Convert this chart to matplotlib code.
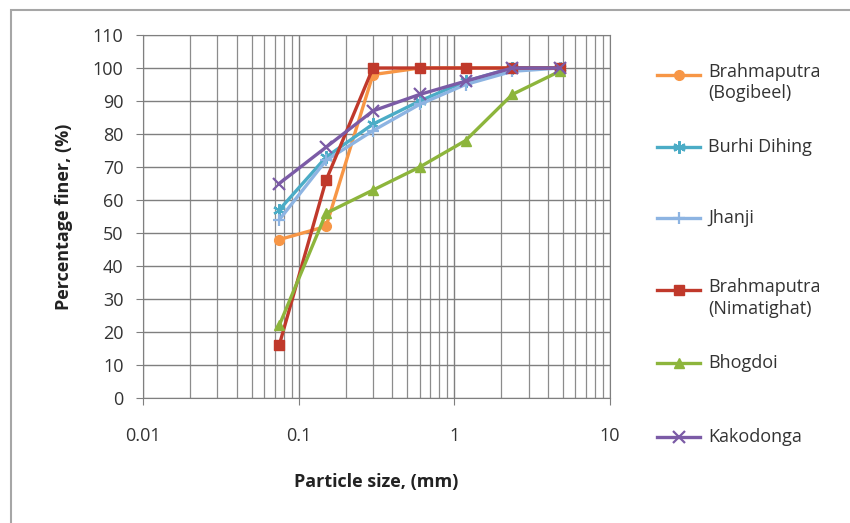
import matplotlib
matplotlib.use("Agg")
import matplotlib.pyplot as plt
from matplotlib.lines import Line2D
from matplotlib.patches import Rectangle
from matplotlib.ticker import FixedLocator, LogLocator, NullFormatter

plt.rcParams['font.family'] = ['Open Sans', 'DejaVu Sans']

# sieve sizes (mm)
sizes = [0.075, 0.15, 0.3, 0.6, 1.18, 2.36, 4.75]

# percentage finer for each river
bogibeel = [48, 52, 98, 100, 100, 100, 100]
burhi_dihing = [57, 73, 83, 90, 96, 100, 100]
jhanji = [54, 72, 81, 89, 95, 99, 100]
nimatighat = [16, 66, 100, 100, 100, 100, 100]
bhogdoi = [22, 56, 63, 70, 78, 92, 99]
kakodonga = [65, 76, 87, 92, 96, 100, 100]

series = [
    ("Brahmaputra\n(Bogibeel)", bogibeel, '#F79646', 'o'),
    ("Burhi Dihing", burhi_dihing, '#4BACC6', (6, 2, 0)),
    ("Jhanji", jhanji, '#8DB4E2', '+'),
    ("Brahmaputra\n(Nimatighat)", nimatighat, '#C0392B', 's'),
    ("Bhogdoi", bhogdoi, '#8DB53C', '^'),
    ("Kakodonga", kakodonga, '#7B5BA6', 'x'),
]

FS = 13

fig = plt.figure(figsize=(8.5, 5.23), dpi=100)
ax = fig.add_axes([143 / 850, 125 / 523, 467 / 850, 363 / 523])

# outer chart border
fig.add_artist(Rectangle((11 / 850, -0.05), 1.0, 1 - 10 / 523 + 0.05,
                         transform=fig.transFigure, fill=False,
                         edgecolor='#A6A6A6', linewidth=1.5))


def marker_style(marker):
    thin = marker in ('+', 'x', (6, 2, 0))
    return dict(markersize=9 if thin else 7, markeredgewidth=1.6 if thin else 1)


for label, vals, color, marker in series:
    ax.plot(sizes, vals, color=color, linewidth=2.4, marker=marker,
            zorder=3, **marker_style(marker))

ax.set_xscale('log')
ax.set_xlim(0.01, 10)
ax.set_ylim(0, 110)
ax.yaxis.set_major_locator(FixedLocator(range(0, 111, 10)))
ax.xaxis.set_major_locator(FixedLocator([0.01, 0.1, 1, 10]))
ax.xaxis.set_minor_locator(LogLocator(base=10, subs=range(2, 10)))
ax.xaxis.set_minor_formatter(NullFormatter())
ax.set_xticklabels(['0.01', '0.1', '1', '10'])

ax.grid(which='major', color='#7F7F7F', linewidth=1.0)
ax.grid(which='minor', axis='x', color='#8C8C8C', linewidth=0.9)
ax.set_axisbelow(True)
for sp in ax.spines.values():
    sp.set_color('#7F7F7F')
ax.tick_params(axis='both', which='major', length=5, color='#7F7F7F',
               labelsize=FS, labelcolor='#333333', direction='out')
ax.tick_params(axis='x', which='major', pad=16)
ax.tick_params(axis='y', which='major', pad=9)
ax.tick_params(axis='x', which='minor', length=0)

ax.set_xlabel('Particle size, (mm)', fontsize=FS, fontweight='bold',
              color='#222222', labelpad=20)
ax.set_ylabel('Percentage finer, (%)', fontsize=FS, fontweight='bold',
              color='#222222', labelpad=14)

# legend on the right, evenly spaced
ys = [75, 147, 218, 290, 363, 437]
for (label, vals, color, marker), y in zip(series, ys):
    yf = 1 - y / 523
    fig.add_artist(Line2D([657 / 850, 700 / 850], [yf, yf], transform=fig.transFigure,
                          color=color, linewidth=2.4))
    fig.add_artist(Line2D([678.5 / 850], [yf], transform=fig.transFigure,
                          color=color, marker=marker, **marker_style(marker)))
    if '\n' in label:
        fig.text(708 / 850, yf + 12 / 523, label, fontsize=FS, color='#333333',
                 va='top', linespacing=1.25)
    else:
        fig.text(708 / 850, yf, label, fontsize=FS, color='#333333', va='center')

fig.savefig('out.png', dpi=100)
